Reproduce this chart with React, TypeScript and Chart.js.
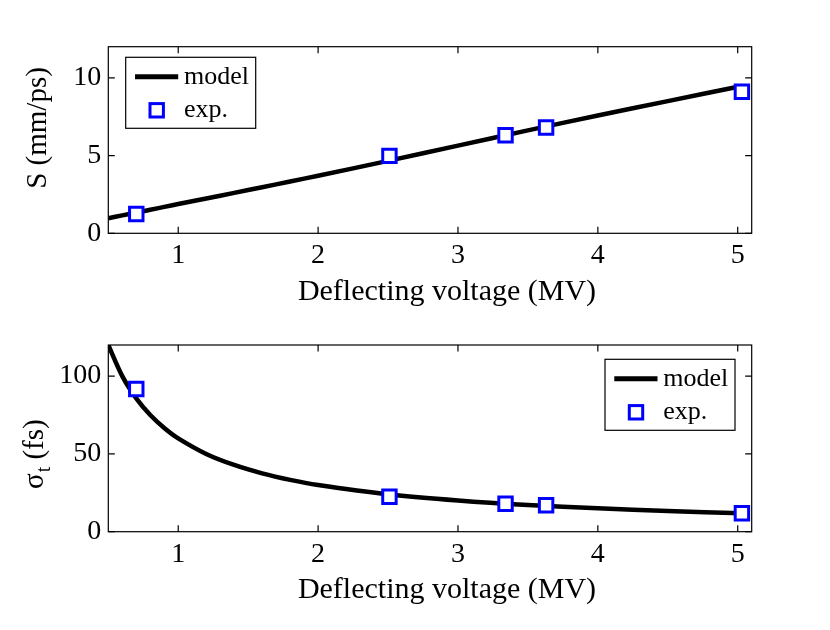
import React, { useEffect, useRef } from "react";
import { Chart, registerables } from "chart.js";

Chart.register(...registerables);

const FAMILY = "'Liberation Serif', 'Times New Roman', serif";

// x axis (both panels)
const voltageTicks = [1, 2, 3, 4, 5];
const xTitle = "Deflecting voltage (MV)";

// measured points
const expVoltage = [0.7, 2.51, 3.34, 3.63, 5.03];
const expSlope = [1.24, 4.98, 6.31, 6.8, 9.1];
const expSigma = [91.7, 22.5, 18.0, 17.0, 11.8];

// model curves
const modelVoltage = [0.5, 0.6, 0.7, 0.8, 0.9, 1, 1.2, 1.4, 1.6, 1.8, 2, 2.5, 3, 3.5, 4, 4.5, 5.03];
const modelSlope = [0.97, 1.15, 1.33, 1.51, 1.7, 1.88, 2.24, 2.6, 2.96, 3.33, 3.7, 4.66, 5.64, 6.62, 7.58, 8.5, 9.47];
const modelSigma = [120, 100, 85.7, 75, 66.7, 60, 50, 42.9, 37.5, 33.3, 30, 24, 20, 17.1, 15, 13.3, 11.9];

const slopeTicks = [0, 5, 10];
const sigmaTicks = [0, 50, 100];

const toPoints = (xs: number[], ys: number[]) => xs.map((x, i) => ({ x, y: ys[i] }));

// box, inward ticks on all sides, legend and axis titles
const framePlugin = {
  id: "frame",
  afterDatasetsDraw(chart: any, _args: any, opts: any) {
    const ctx = chart.ctx;
    const { left, right, top, bottom } = chart.chartArea;
    const xs = chart.scales.x;
    const ys = chart.scales.y;
    const tl = 6.5;
    ctx.save();
    ctx.strokeStyle = "#000";
    ctx.lineWidth = 1.2;
    ctx.beginPath();
    voltageTicks.forEach((v) => {
      const px = xs.getPixelForValue(v);
      ctx.moveTo(px, bottom);
      ctx.lineTo(px, bottom - tl);
      ctx.moveTo(px, top);
      ctx.lineTo(px, top + tl);
    });
    opts.yTicks.forEach((v: number) => {
      const py = ys.getPixelForValue(v);
      ctx.moveTo(left, py);
      ctx.lineTo(left + tl, py);
      ctx.moveTo(right, py);
      ctx.lineTo(right - tl, py);
    });
    ctx.stroke();
    ctx.strokeRect(left, top, right - left, bottom - top);

    // legend
    const lx = opts.legendX;
    const ly = opts.legendY;
    ctx.fillStyle = "#fff";
    ctx.fillRect(lx, ly, 130, 71);
    ctx.lineWidth = 1.2;
    ctx.strokeRect(lx, ly, 130, 71);
    ctx.lineWidth = 5;
    ctx.beginPath();
    ctx.moveTo(lx + 9.3, ly + 19.5);
    ctx.lineTo(lx + 52.5, ly + 19.5);
    ctx.stroke();
    ctx.strokeStyle = "#0000ff";
    ctx.lineWidth = 3;
    ctx.strokeRect(lx + 31 - 6.7, ly + 53 - 6.7, 13.4, 13.4);
    ctx.fillStyle = "#000";
    ctx.font = `26px ${FAMILY}`;
    ctx.textAlign = "left";
    ctx.textBaseline = "middle";
    ctx.fillText("model", lx + 58.3, ly + 19.5);
    ctx.fillText("exp.", lx + 58.3, ly + 53);

    // x title
    ctx.textBaseline = "alphabetic";
    ctx.textAlign = "center";
    ctx.font = `30px ${FAMILY}`;
    ctx.fillText(xTitle, 447, bottom + 66.7);

    // y title
    if (opts.yTitle === "S") {
      ctx.translate(46, 128);
      ctx.rotate(-Math.PI / 2);
      ctx.textAlign = "center";
      ctx.font = `29px ${FAMILY}`;
      ctx.fillText("S (mm/ps)", 0, 0);
    } else {
      ctx.translate(42.5, 174);
      ctx.rotate(-Math.PI / 2);
      ctx.textAlign = "left";
      ctx.font = `29px ${FAMILY}`;
      ctx.fillText("σ", 0, 0);
      let w = ctx.measureText("σ").width;
      ctx.font = `20px ${FAMILY}`;
      ctx.fillText("t", w + 1, 7);
      w += ctx.measureText("t").width + 1;
      ctx.font = `29px ${FAMILY}`;
      ctx.fillText(" (fs)", w, 0);
    }
    ctx.restore();
  },
};

interface PanelProps {
  modelY: number[];
  expY: number[];
  yMax: number;
  yTicks: number[];
  yTitle: string;
  padTop: number;
  axisHeight: number;
  legendX: number;
  legendY: number;
}

const Panel = (props: PanelProps) => {
  const chartRef = useRef<HTMLCanvasElement>(null);

  useEffect(() => {
    if (!chartRef.current) return;
    const ctx: any = chartRef.current.getContext("2d");
    const chart = new Chart(ctx, {
      type: "scatter",
      data: {
        datasets: [
          {
            label: "exp.",
            data: toPoints(expVoltage, props.expY),
            pointStyle: "rect",
            pointRadius: 9.5,
            pointBorderWidth: 3,
            pointBorderColor: "#0000ff",
            pointBackgroundColor: "#ffffff",
            showLine: false,
            order: 1,
          },
          {
            label: "model",
            data: toPoints(modelVoltage, props.modelY),
            showLine: true,
            borderColor: "#000",
            borderWidth: 4.5,
            pointRadius: 0,
            tension: 0.3,
            order: 2,
          },
        ] as any,
      },
      options: {
        animation: false,
        responsive: false,
        layout: { padding: { top: props.padTop, right: 78.3, bottom: 0, left: 0 } },
        plugins: {
          legend: { display: false },
          tooltip: { enabled: false },
          frame: {
            yTicks: props.yTicks,
            yTitle: props.yTitle,
            legendX: props.legendX,
            legendY: props.legendY,
          },
        } as any,
        scales: {
          x: {
            type: "linear",
            min: 0.5,
            max: 5.1,
            afterBuildTicks: (s: any) => {
              s.ticks = voltageTicks.map((v) => ({ value: v }));
            },
            afterFit: (s: any) => {
              s.height = props.axisHeight;
            },
            grid: { display: false, drawTicks: false },
            border: { display: false },
            ticks: {
              font: { family: FAMILY, size: 28 },
              color: "#000",
              padding: 6,
              maxRotation: 0,
              autoSkip: false,
            },
          },
          y: {
            type: "linear",
            min: 0,
            max: props.yMax,
            afterBuildTicks: (s: any) => {
              s.ticks = props.yTicks.map((v) => ({ value: v }));
            },
            afterFit: (s: any) => {
              s.width = 108.3;
            },
            grid: { display: false, drawTicks: false },
            border: { display: false },
            ticks: {
              font: { family: FAMILY, size: 28 },
              color: "#000",
              padding: 7,
              autoSkip: false,
            },
          },
        },
      },
      plugins: [framePlugin],
    });
    return () => chart.destroy();
  }, []);

  return <canvas ref={chartRef} width={830} height={315} style={{ display: "block" }} />;
};

export default function App() {
  return (
    <div
      style={{
        position: "absolute",
        left: 0,
        top: 0,
        width: 830,
        height: 630,
        background: "#fff",
      }}
    >
      <Panel
        modelY={modelSlope}
        expY={expSlope}
        yMax={12}
        yTicks={slopeTicks}
        yTitle="S"
        padTop={46.7}
        axisHeight={81.7}
        legendX={125.7}
        legendY={57.3}
      />
      <Panel
        modelY={modelSigma}
        expY={expSigma}
        yMax={120}
        yTicks={sigmaTicks}
        yTitle="sigma"
        padTop={30}
        axisHeight={98.3}
        legendX={605}
        legendY={44.3}
      />
    </div>
  );
}
